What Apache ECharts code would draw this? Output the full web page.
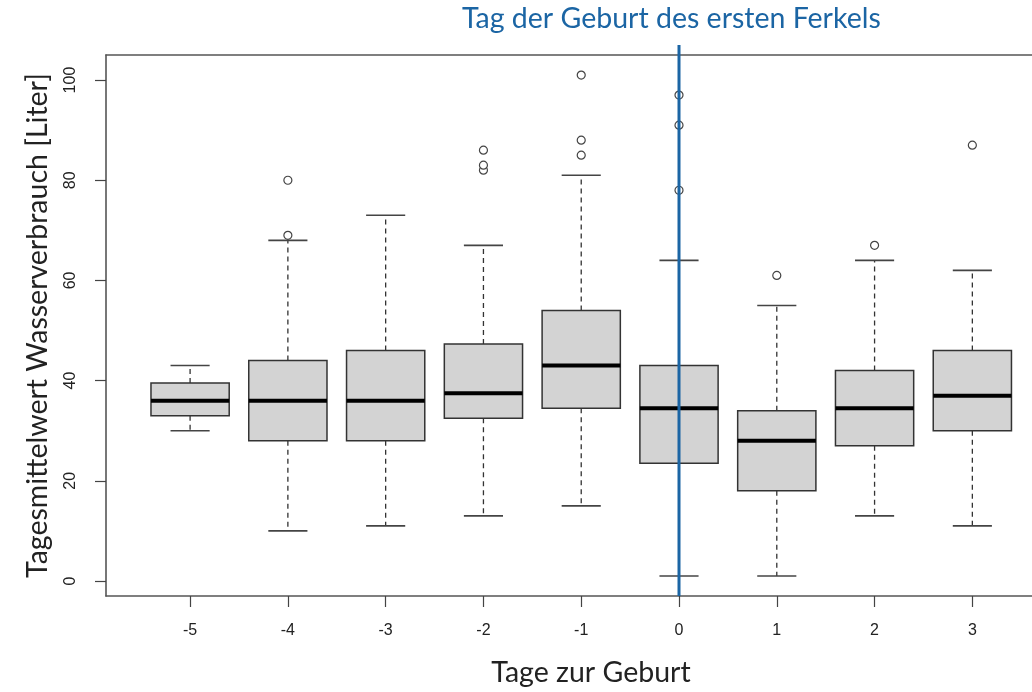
<!DOCTYPE html>
<html>
<head>
<meta charset="utf-8">
<script src="https://cdn.jsdelivr.net/npm/echarts@6/dist/echarts.min.js"></script>
<style>
  html, body { margin: 0; padding: 0; background: #fff; overflow: hidden; }
  #chart { width: 1032px; height: 692px; }
</style>
</head>
<body>
<div id="chart"></div>
<script>
// ---- data ----
const categories = ['-5', '-4', '-3', '-2', '-1', '0', '1', '2', '3'];
const lowerWhisker = [30, 10, 11, 13, 15, 1, 1, 13, 11];
const q1 = [33, 28, 28, 32.5, 34.5, 23.5, 18, 27, 30];
const median = [36, 36, 36, 37.5, 43, 34.5, 28, 34.5, 37];
const q3 = [39.5, 44, 46, 47.3, 54, 43, 34, 42, 46];
const upperWhisker = [43, 68, 73, 67, 81, 64, 55, 64, 62];
const outliers = [[], [69, 80], [], [82, 83, 86], [85, 88, 101], [78, 91, 97], [61], [67], [87]];
const yTicks = [0, 20, 40, 60, 80, 100];
const birthDay = '0';
const titleText = 'Tag der Geburt des ersten Ferkels';
const xTitle = 'Tage zur Geburt';
const yTitle = 'Tagesmittelwert Wasserverbrauch [Liter]';

// ---- build series data ----
const positions = categories.map((c, i) => i + 1);
const boxData = categories.map((c, i) => [positions[i], lowerWhisker[i], q1[i], median[i], q3[i], upperWhisker[i]]);
const outlierData = [];
outliers.forEach((arr, i) => arr.forEach(v => outlierData.push([positions[i], v])));
const birthPos = positions[categories.indexOf(birthDay)];

const frameColor = '#555';
const blue = '#1B65A4';

function renderBox(params, api) {
  const x = api.value(0);
  const lo = api.coord([x, api.value(1)]);
  const b1 = api.coord([x, api.value(2)]);
  const md = api.coord([x, api.value(3)]);
  const b3 = api.coord([x, api.value(4)]);
  const hi = api.coord([x, api.value(5)]);
  const halfBox = api.size([0.8, 0])[0] / 2;
  const halfCap = halfBox / 2;
  const cx = md[0];
  const dashStyle = { stroke: '#333', lineWidth: 1.3, lineDash: [5, 4] };
  const solid = { stroke: '#444', lineWidth: 1.6 };
  return {
    type: 'group',
    children: [
      { type: 'line', shape: { x1: cx, y1: b3[1], x2: cx, y2: hi[1] }, style: dashStyle },
      { type: 'line', shape: { x1: cx, y1: b1[1], x2: cx, y2: lo[1] }, style: dashStyle },
      { type: 'line', shape: { x1: cx - halfCap, y1: hi[1], x2: cx + halfCap, y2: hi[1] }, style: solid },
      { type: 'line', shape: { x1: cx - halfCap, y1: lo[1], x2: cx + halfCap, y2: lo[1] }, style: solid },
      { type: 'rect', shape: { x: cx - halfBox, y: b3[1], width: halfBox * 2, height: b1[1] - b3[1] },
        style: { fill: '#D3D3D3', stroke: '#333', lineWidth: 1.5 } },
      { type: 'line', shape: { x1: cx - halfBox, y1: md[1], x2: cx + halfBox, y2: md[1] },
        style: { stroke: '#000', lineWidth: 4 } }
    ]
  };
}

function renderBirthLine(params, api) {
  const x = api.value(0);
  const bottom = api.coord([x, -3]);
  const top = api.coord([x, 105]);
  return {
    type: 'line',
    shape: { x1: bottom[0], y1: bottom[1], x2: top[0], y2: top[1] - 10 },
    style: { stroke: blue, lineWidth: 3 }
  };
}

const chart = echarts.init(document.getElementById('chart'), null, { renderer: 'canvas', width: 1032, height: 692 });
const labelFont = { fontFamily: 'Liberation Sans', fontSize: 16, color: '#222' };

chart.setOption({
  animation: false,
  backgroundColor: '#fff',
  grid: { left: 106, width: 926, top: 55, height: 546, containLabel: false },
  xAxis: [{
    type: 'value', min: 0.14, max: 9.61, position: 'bottom',
    axisLine: { show: true, onZero: false, lineStyle: { color: frameColor, width: 1.6 } },
    axisTick: { show: true, customValues: positions, length: 11, lineStyle: { color: '#444', width: 1.2 } },
    axisLabel: Object.assign({ customValues: positions, margin: 27, formatter: v => categories[Math.round(v) - 1] }, labelFont),
    splitLine: { show: false },
    name: xTitle, nameLocation: 'middle', nameGap: 62,
    nameTextStyle: { fontFamily: 'Lato', fontSize: 28.5, color: '#222', padding: [0, 0, 0, 44] }
  }, {
    type: 'value', min: 0.14, max: 9.61, position: 'top',
    axisLine: { show: true, onZero: false, lineStyle: { color: frameColor, width: 1.6 } },
    axisTick: { show: false }, axisLabel: { show: false }, splitLine: { show: false }
  }],
  yAxis: {
    type: 'value', min: -3, max: 105,
    axisLine: { show: true, onZero: false, lineStyle: { color: frameColor, width: 1.6 } },
    axisTick: { show: true, customValues: yTicks, length: 11, lineStyle: { color: '#444', width: 1.2 } },
    axisLabel: Object.assign({ customValues: yTicks, rotate: 90, margin: 27 }, labelFont),
    splitLine: { show: false },
    name: yTitle, nameLocation: 'middle', nameRotate: 90, nameGap: 54,
    nameTextStyle: { fontFamily: 'Lato', fontSize: 28.5, color: '#222' }
  },
  graphic: [{
    type: 'text', left: 462, top: 4,
    style: { text: titleText, fill: blue, font: '28.5px Lato' }
  }],
  series: [{
    type: 'custom', renderItem: renderBox, data: boxData, clip: false, z: 2,
    encode: { x: 0, y: [1, 2, 3, 4, 5] }
  }, {
    type: 'scatter', data: outlierData, symbol: 'circle', symbolSize: 8, z: 3,
    itemStyle: { color: '#fff', borderColor: '#444', borderWidth: 1.2, opacity: 1 }
  }, {
    type: 'custom', renderItem: renderBirthLine, data: [[birthPos]], clip: false, z: 5,
    encode: { x: 0 }
  }]
});
</script>
</body>
</html>
